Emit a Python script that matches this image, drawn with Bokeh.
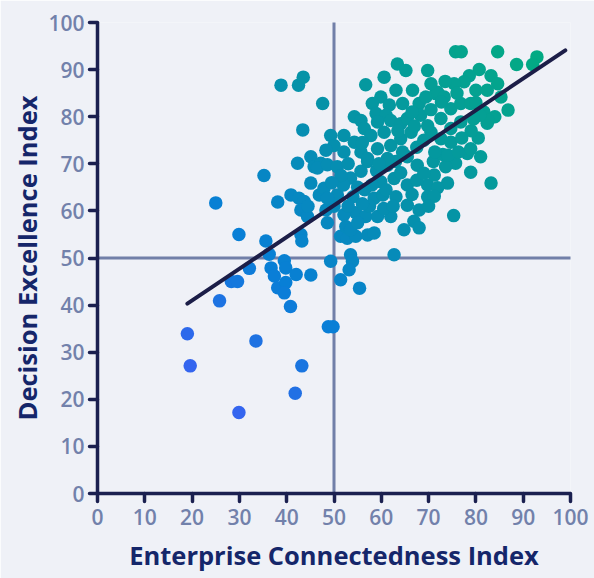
from bokeh.plotting import figure
from bokeh.models import Range1d, FixedTicker, ColumnDataSource
from bokeh.embed import file_html
from bokeh.resources import INLINE

# ---- data ----
connectedness = [
    19.0, 19.6, 25.0, 25.8, 28.3, 29.6, 29.9, 29.9, 32.1, 33.5, 35.2, 35.6, 36.3, 36.7, 37.4, 38.1,
    38.1, 38.8, 39.5, 39.8, 39.8, 39.5, 40.8, 41.8, 43.2, 42.0, 43.0, 43.2, 45.1, 40.9, 42.6, 43.7,
    43.0, 42.3, 42.5, 43.5, 43.4, 45.1, 45.1, 45.8, 47.2, 46.9, 47.9, 47.6, 48.8, 49.8, 49.3, 51.4,
    55.4, 53.5, 53.9, 53.2, 62.7, 48.6, 48.3, 44.4, 44.5,
    51.4, 52.8, 54.6, 57.1, 58.5, 52.5, 53.5, 66.9, 68.0, 64.8, 54.6, 56.7, 59.2, 62.0, 55.0, 52.1,
    50.0, 50.7, 48.6,
    46.5, 48.6, 50.7, 53.5, 55.7, 57.1, 58.5, 60.3, 63.1, 65.5, 68.0, 69.8, 69.8, 59.9, 62.7, 65.5,
    64.1, 61.3, 67.6, 71.2, 75.3, 75.7, 73.6, 74.0, 71.9, 71.2, 78.2, 78.9, 83.2, 81.0,
    52.0, 54.0, 56.5, 57.5, 60.5, 62.5, 66.5, 67.5, 63.0, 65.5, 59.0, 55.0, 51.5, 49.5, 56.0, 53.0,
    58.0, 61.0, 70.0, 69.0, 71.0, 73.0, 71.3, 74.1, 76.3, 70.5, 72.6, 74.7, 78.9,
    56.7, 60.6, 63.4, 65.2, 69.8, 63.1, 66.6, 59.9, 58.1, 61.7, 64.5, 68.0, 69.4, 71.5, 54.3, 55.7,
    58.9, 61.0, 59.2, 62.0, 64.1, 65.5, 68.3, 69.8, 49.3, 52.1, 50.0, 48.3, 54.3, 56.4, 57.8, 60.6,
    55.7, 59.2, 62.0, 64.1, 66.3, 52.1, 57.1, 61.3, 67.5, 69.0, 63.5, 66.5, 70.5, 67.0, 53.0, 59.5,
    64.5, 56.0,
    75.7, 76.9, 84.6, 88.6, 92.9, 92.0, 80.7, 78.6, 77.5, 75.4, 83.2, 84.6, 80.0, 82.4, 85.3, 86.8,
    71.9, 73.3, 81.7, 82.4, 80.5, 84.0, 74.7, 76.8, 78.9, 72.6, 74.7, 76.8, 72.7, 82.6, 80.8, 79.0,
    77.0, 79.5, 76.0, 73.5, 70.5, 80.0,
]
excellence = [
    33.9, 27.1, 61.7, 40.9, 45.0, 45.0, 17.2, 55.0, 47.8, 32.4, 67.5, 53.6, 50.8, 47.9, 46.2, 61.9,
    43.7, 86.7, 49.4, 47.9, 44.8, 42.6, 39.7, 21.3, 27.1, 46.5, 55.0, 53.6, 46.4, 63.4, 62.7, 62.0,
    60.2, 70.1, 86.7, 88.4, 77.2, 71.5, 65.9, 69.4, 70.1, 63.4, 64.8, 82.8, 35.4, 35.4, 49.3, 45.4,
    43.6, 50.7, 49.3, 47.5, 50.7, 57.5, 60.2, 58.8, 61.0,
    54.6, 54.2, 54.6, 54.9, 55.3, 56.7, 56.0, 57.8, 56.4, 56.0, 59.6, 58.8, 58.8, 58.8, 57.5, 59.2,
    61.0, 63.4, 62.7,
    69.1, 69.8, 69.4, 67.0, 68.4, 70.5, 62.7, 63.4, 63.0, 61.2, 60.2, 65.5, 63.0, 66.2, 66.9, 65.5,
    68.1, 69.7, 69.7, 67.6, 59.0, 70.1, 69.4, 65.9, 64.9, 63.1, 72.2, 68.2, 65.9, 71.5,
    65.5, 63.0, 64.5, 61.0, 60.5, 61.0, 63.5, 66.5, 70.5, 71.5, 68.5, 65.0, 67.5, 66.0, 61.5, 61.0,
    65.5, 64.5, 61.0, 68.0, 70.5, 72.0, 72.5, 71.8, 72.5, 76.7, 75.3, 74.6, 73.2,
    86.8, 88.4, 91.2, 89.8, 89.8, 85.6, 85.6, 84.2, 82.8, 82.5, 82.8, 82.8, 84.2, 84.9, 80.0, 79.2,
    80.7, 80.3, 78.9, 79.2, 78.5, 79.6, 80.3, 78.1, 76.0, 76.0, 73.9, 72.9, 74.6, 77.5, 76.0, 76.7,
    72.5, 73.2, 73.9, 75.3, 76.7, 72.5, 71.1, 71.1, 73.5, 75.0, 77.0, 81.0, 81.5, 78.0, 70.0, 70.0,
    72.5, 74.5,
    93.8, 93.8, 93.8, 91.1, 92.7, 91.1, 90.0, 88.7, 87.4, 87.0, 88.7, 87.0, 85.6, 85.6, 84.2, 81.4,
    85.2, 84.2, 81.0, 78.6, 75.5, 80.0, 81.7, 82.8, 82.8, 79.6, 77.5, 78.9, 83.1, 79.2, 80.3, 77.0,
    75.5, 79.5, 85.0, 87.5, 87.0, 83.0,
]
trend_x = [19.0, 98.9]
trend_y = [40.3, 94.1]
ticks = [0, 10, 20, 30, 40, 50, 60, 70, 80, 90, 100]
x_label = "Enterprise Connectedness Index"
y_label = "Decision Excellence Index"

# ---- colour: diagonal gradient blue -> teal (by x + y) ----
stops = [(45, (0x36, 0x64, 0xf0)), (85, (0x08, 0x7f, 0xd6)), (130, (0x05, 0x92, 0xa8)),
         (185, (0x03, 0xaa, 0x84))]


def grad(s):
    if s <= stops[0][0]:
        c = stops[0][1]
    elif s >= stops[-1][0]:
        c = stops[-1][1]
    else:
        for (a, ca), (b, cb) in zip(stops[:-1], stops[1:]):
            if a <= s <= b:
                t = (s - a) / (b - a)
                c = tuple(int(round(ca[i] + (cb[i] - ca[i]) * t)) for i in range(3))
                break
    return "#%02x%02x%02x" % c


colors = [grad(a + b) for a, b in zip(connectedness, excellence)]
src = ColumnDataSource(dict(x=connectedness, y=excellence, c=colors))

BG = "#eff1f7"
NAVY = "#1b2050"

p = figure(width=594, height=578, output_backend="svg", toolbar_location=None,
           x_range=Range1d(0, 100), y_range=Range1d(0, 100),
           min_border_left=97, min_border_right=24, min_border_top=22, min_border_bottom=85)
p.background_fill_color = BG
p.border_fill_color = BG
p.outline_line_color = None
p.grid.visible = False

for ax in (p.xaxis[0], p.yaxis[0]):
    ax.ticker = FixedTicker(ticks=ticks)
    ax.axis_line_color = NAVY
    ax.axis_line_width = 3.5
    ax.major_tick_line_color = NAVY
    ax.major_tick_line_width = 3.5
    ax.major_tick_line_cap = "round"
    ax.major_tick_out = 8
    ax.major_tick_in = 0
    ax.minor_tick_line_color = None
    ax.major_label_text_color = "#7281ab"
    ax.major_label_text_font = "Open Sans SemiBold"
    ax.major_label_text_font_size = "21px"
    ax.axis_label_text_color = "#15266a"
    ax.axis_label_text_font = "Open Sans"
    ax.axis_label_text_font_style = "bold"
    ax.axis_label_text_font_size = "25.5px"

p.xaxis.axis_label = x_label
p.yaxis.axis_label = y_label
p.xaxis.major_label_standoff = 7
p.yaxis.major_label_standoff = 5
p.xaxis.axis_label_standoff = 10
p.yaxis.axis_label_standoff = 2

ref = "#717fa8"
p.line([50, 50], [0, 100], line_color=ref, line_width=3, line_cap="round")
p.line([0, 100], [50, 50], line_color=ref, line_width=3, line_cap="round")

p.scatter("x", "y", source=src, size=13.5, fill_color="c", line_color=None)

p.line(trend_x, trend_y, line_color="#1c1e48", line_width=4, line_cap="round")

html = file_html(p, INLINE)
html = html.replace("<body>", '<body style="background:%s">' % BG, 1)
open("out.html", "w").write(html)
